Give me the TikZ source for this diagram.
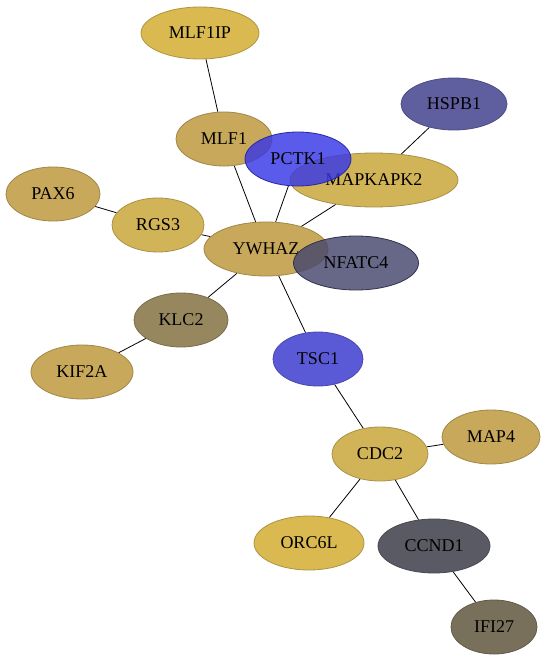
\documentclass[tikz,border=0pt]{standalone}
\usepackage{fontspec}
\setmainfont{Liberation Serif}
\usetikzlibrary{shapes.geometric,backgrounds}
\definecolor{cA}{RGB}{217,185,80}
\definecolor{cB}{RGB}{200,168,90}
\definecolor{cC}{RGB}{210,180,88}
\definecolor{cBlue}{RGB}{55,55,230}
\definecolor{cTsc}{RGB}{90,90,215}
\definecolor{cHsp}{RGB}{95,95,160}
\definecolor{cNfa}{RGB}{70,70,110}
\definecolor{cKlc}{RGB}{150,135,95}
\definecolor{cCcn}{RGB}{90,90,100}
\definecolor{cIfi}{RGB}{120,112,90}
\tikzset{
  gene/.style={ellipse, inner sep=0pt, font=\fontsize{18}{20}\selectfont, line width=0.8pt},
  gold/.style={gene, fill=#1, draw=#1!80!black},
  tr/.style={gene, fill=#1, draw=#1!70!black, fill opacity=0.82, text opacity=1},
  link/.style={draw=black, line width=0.8pt}
}
\begin{document}
\begin{tikzpicture}[x=1pt,y=-1pt]
\useasboundingbox (0,0) rectangle (548,661);
\node[gold=cA, minimum width=118pt, minimum height=52pt] (mlf1ip) at (200,33) {MLF1IP};
\node[gold=cB, minimum width=96pt, minimum height=54pt] (mlf1) at (224,139) {MLF1};
\node[gold=cHsp, minimum width=106pt, minimum height=52pt] (hspb1) at (454,104) {HSPB1};
\node[gold=cC, minimum width=168pt, minimum height=54pt] (mapk) at (374,180) {MAPKAPK2};
\node[tr=cBlue, minimum width=106pt, minimum height=54pt] (pctk1) at (298,159) {PCTK1};
\node[gold=cB, minimum width=94pt, minimum height=54pt] (pax6) at (53,194) {PAX6};
\node[gold=cC, minimum width=92pt, minimum height=54pt] (rgs3) at (158,225) {RGS3};
\node[gold=cB, minimum width=124pt, minimum height=54pt] (ywhaz) at (266,249) {YWHAZ};
\node[tr=cNfa, minimum width=125pt, minimum height=54pt] (nfatc4) at (356,263) {NFATC4};
\node[gold=cKlc, minimum width=94pt, minimum height=54pt] (klc2) at (181,320) {KLC2};
\node[gold=cB, minimum width=102pt, minimum height=54pt] (kif2a) at (82,372) {KIF2A};
\node[gold=cTsc, minimum width=90pt, minimum height=54pt] (tsc1) at (318,359) {TSC1};
\node[gold=cC, minimum width=96pt, minimum height=54pt] (cdc2) at (380,454) {CDC2};
\node[gold=cB, minimum width=98pt, minimum height=54pt] (map4) at (491,437) {MAP4};
\node[gold=cA, minimum width=110pt, minimum height=54pt] (orc6l) at (309,543) {ORC6L};
\node[gold=cCcn, minimum width=112pt, minimum height=54pt] (ccnd1) at (434,546) {CCND1};
\node[gold=cIfi, minimum width=86pt, minimum height=54pt] (ifi27) at (494,627) {IFI27};
\begin{scope}[on background layer]
\draw[link] (mlf1ip) -- (mlf1);
\draw[link] (mlf1) -- (ywhaz);
\draw[link] (pctk1) -- (ywhaz);
\draw[link] (mapk) -- (ywhaz);
\draw[link] (mapk) -- (hspb1);
\draw[link] (pax6) -- (rgs3);
\draw[link] (rgs3) -- (ywhaz);
\draw[link] (ywhaz) -- (klc2);
\draw[link] (klc2) -- (kif2a);
\draw[link] (ywhaz) -- (tsc1);
\draw[link] (tsc1) -- (cdc2);
\draw[link] (cdc2) -- (map4);
\draw[link] (cdc2) -- (orc6l);
\draw[link] (cdc2) -- (ccnd1);
\draw[link] (ccnd1) -- (ifi27);
\end{scope}
\end{tikzpicture}
\end{document}
